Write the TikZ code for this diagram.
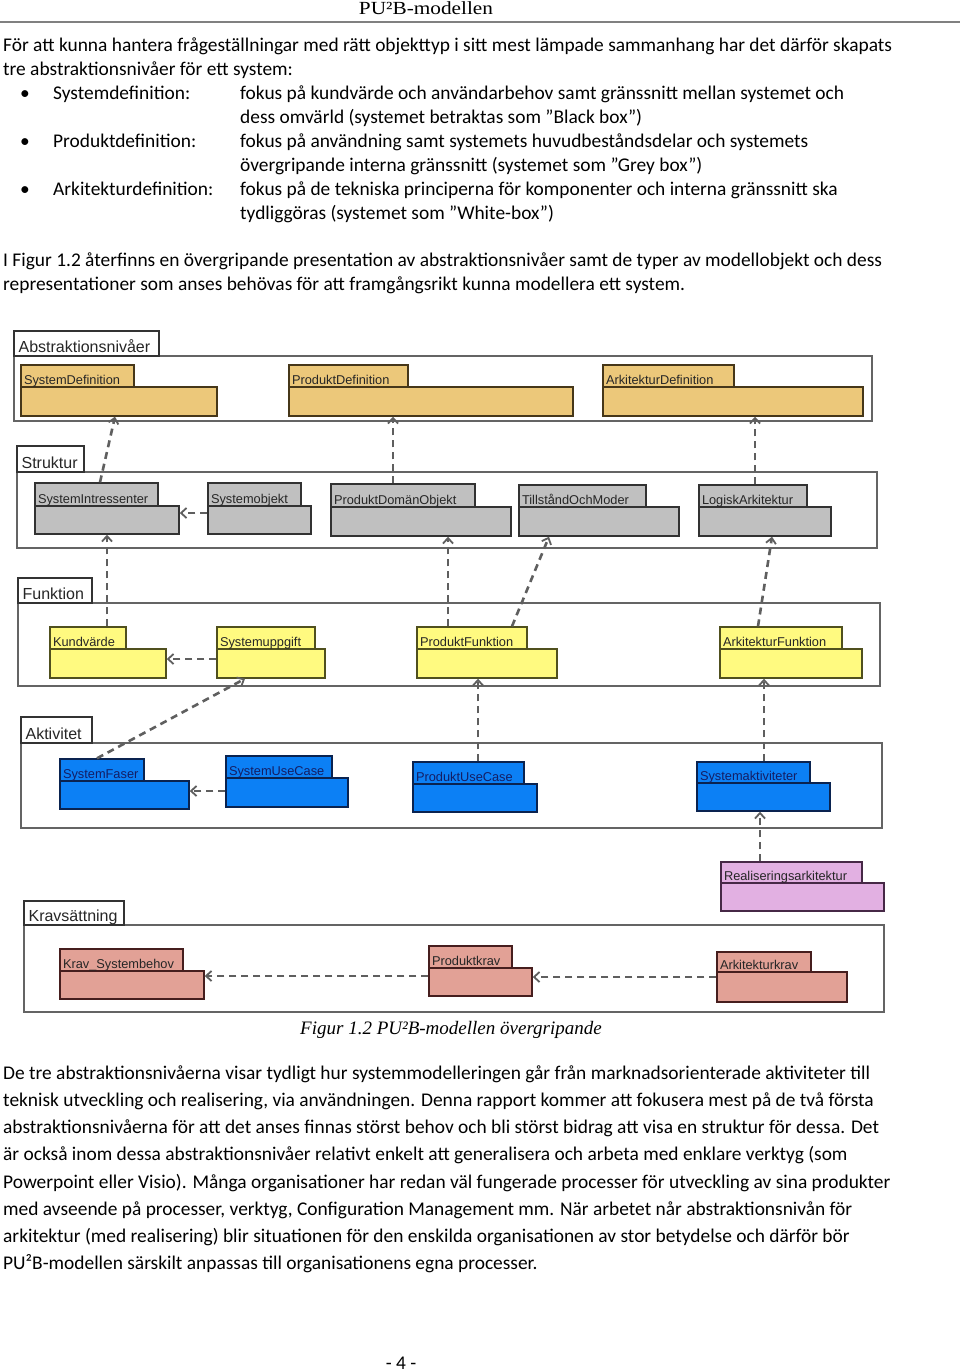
\documentclass[tikz,border=0pt]{standalone}
\usepackage{fontspec}
\setmainfont{Carlito}
\newfontfamily\hdrfont[FakeStretch=1.15]{Liberation Serif}
\newfontfamily\capfont{Liberation Serif}
\newfontfamily\diafont{Liberation Sans}
\usetikzlibrary{fit,arrows.meta,calc}
\definecolor{cO}{RGB}{236,200,122}
\definecolor{cOd}{RGB}{70,55,25}
\definecolor{cG}{RGB}{192,192,192}
\definecolor{cGd}{RGB}{50,50,50}
\definecolor{cY}{RGB}{255,250,128}
\definecolor{cYd}{RGB}{80,80,30}
\definecolor{cB}{RGB}{12,128,245}
\definecolor{cBd}{RGB}{10,35,80}
\definecolor{cP}{RGB}{226,176,226}
\definecolor{cPd}{RGB}{70,40,70}
\definecolor{cS}{RGB}{226,161,150}
\definecolor{cSd}{RGB}{70,30,30}
\definecolor{cline}{RGB}{95,95,95}
\definecolor{cframe}{RGB}{100,100,100}
\definecolor{lblB}{RGB}{20,30,100}
\colorlet{lbl}{black!85}
\newcommand\frm[8]{%
  \node[lvlframe, fit={(#2,#5)(#6,#7)}] (#1) {};
  \node[lvltab, fit={(#2,#3)(#4,#5)}] (#1-t) {};
  \node[lvltitle] (#1-l) at ([xshift=5pt,yshift=4pt]#1-t.south west) {#8};
}
\newcommand\pkg[9]{%
  \node[pkgbody, #2, fit={(#3,#6)(#7,#8)}] (#1-b) {};
  \node[pkgtab, #2, fit={(#3,#4)(#5,#6)}] (#1-t) {};
  \node[pkglabel] (#1-l) at ([xshift=3.5pt,yshift=3.5pt]#1-t.south west) {#9};
}
\begin{document}
\begin{tikzpicture}[x=1pt,y=-1pt,
  toptext/.style={font=\fontsize{19.4}{22}\selectfont, anchor=base west, inner sep=0pt},
  bottext/.style={font=\fontsize{19.4}{22}\selectfont, anchor=base west, inner sep=0pt},
  hdrtext/.style={font=\hdrfont\fontsize{18.5}{22}\selectfont, anchor=base, inner sep=0pt},
  captext/.style={font=\capfont\itshape\fontsize{19}{22}\selectfont, anchor=base, inner sep=0pt},
  rule/.style={draw=black!50, line width=2pt},
  lvlframe/.style={draw=cframe, line width=1.6pt, inner sep=0pt, fill=white},
  lvltab/.style={draw=black!80, line width=1.2pt, inner sep=0pt, fill=white},
  lvltitle/.style={font=\diafont\fontsize{16}{18}\selectfont, anchor=base west, inner sep=0pt, text=black!85},
  pkgbody/.style={line width=1.4pt, inner sep=0pt},
  pkgtab/.style={line width=1.4pt, inner sep=0pt},
  pkglabel/.style={font=\diafont\fontsize{12.8}{14}\selectfont, anchor=base west, inner sep=0pt, text=lbl},
  pO/.style={fill=cO, draw=cOd},
  pG/.style={fill=cG, draw=cGd},
  pY/.style={fill=cY, draw=cYd},
  pB/.style={fill=cB, draw=cBd},
  pP/.style={fill=cP, draw=cPd},
  pS/.style={fill=cS, draw=cSd},
  conn/.style={draw=cline, line width=2.6pt, dash pattern=on 7pt off 5pt, -{Straight Barb[length=5.5pt,width=10pt,line width=1.8pt]}}
]
\useasboundingbox[fill=white] (0,0) rectangle (960,1372);

% header
\node[hdrtext] (hdr) at (426,15) {PU²B-modellen};
\coordinate (rl) at (0,22);
\coordinate (rr) at (960,22);
\draw[rule] (rl) -- (rr);

% top paragraph
\node[toptext] (t1) at (3,52) {För att kunna hantera frågeställningar med rätt objekttyp i sitt mest lämpade sammanhang har det därför skapats};
\node[toptext] (t2) at (3,76) {tre abstraktionsnivåer för ett system:};
\node[toptext] (b1) at (20,100) {•};
\node[toptext] (l1) at (53,100) {Systemdefinition:};
\node[toptext] (d1a) at (240,100) {fokus på kundvärde och användarbehov samt gränssnitt mellan systemet och};
\node[toptext] (d1b) at (240,124) {dess omvärld (systemet betraktas som ”Black box”)};
\node[toptext] (b2) at (20,148) {•};
\node[toptext] (l2) at (53,148) {Produktdefinition:};
\node[toptext] (d2a) at (240,148) {fokus på användning samt systemets huvudbeståndsdelar och systemets};
\node[toptext] (d2b) at (240,172) {övergripande interna gränssnitt (systemet som ”Grey box”)};
\node[toptext] (b3) at (20,196) {•};
\node[toptext] (l3) at (53,196) {Arkitekturdefinition:};
\node[toptext] (d3a) at (240,196) {fokus på de tekniska principerna för komponenter och interna gränssnitt ska};
\node[toptext] (d3b) at (240,220) {tydliggöras (systemet som ”White-box”)};
\node[toptext] (p2a) at (3,266) {I Figur 1.2 återfinns en övergripande presentation av abstraktionsnivåer samt de typer av modellobjekt och dess};
\node[toptext] (p2b) at (3,290) {representationer som anses behövas för att framgångsrikt kunna modellera ett system.};

% frames
\frm{fabs}{14}{331}{159}{356}{872}{421}{Abstraktionsnivåer}
\frm{fstr}{17}{446}{84}{472}{877}{548}{Struktur}
\frm{ffun}{18}{578}{92}{603}{880}{686}{Funktion}
\frm{fakt}{21}{717}{92}{743}{882}{828}{Aktivitet}
\frm{fkrav}{24}{901}{124}{925}{884}{1012}{Kravsättning}

% packages
\pkg{sdef}{pO}{21}{365}{134}{387}{217}{416}{SystemDefinition}
\pkg{pdef}{pO}{289}{365}{408}{387}{573}{416}{ProduktDefinition}
\pkg{adef}{pO}{603}{365}{734}{387}{863}{416}{ArkitekturDefinition}

\pkg{sint}{pG}{35}{483}{158}{506}{179}{534}{SystemIntressenter}
\pkg{so}{pG}{208}{483}{301}{506}{311}{534}{Systemobjekt}
\pkg{pdo}{pG}{331}{484}{475}{507}{511}{536}{ProduktDomänObjekt}
\pkg{tom}{pG}{519}{485}{646}{507}{679}{536}{TillståndOchModer}
\pkg{la}{pG}{699}{485}{807}{507}{831}{536}{LogiskArkitektur}

\pkg{kv}{pY}{50}{627}{126}{649}{166}{678}{Kundvärde}
\pkg{su}{pY}{217}{627}{315}{649}{325}{678}{Systemuppgift}
\pkg{pf}{pY}{417}{627}{527}{649}{557}{678}{ProduktFunktion}
\pkg{af}{pY}{720}{627}{842}{649}{862}{678}{ArkitekturFunktion}

\colorlet{lbl}{lblB}
\pkg{sf}{pB}{60}{759}{144}{781}{189}{809}{SystemFaser}
\pkg{suc}{pB}{226}{756}{332}{778}{348}{807}{SystemUseCase}
\pkg{puc}{pB}{413}{762}{524}{784}{537}{812}{ProduktUseCase}
\pkg{sa}{pB}{697}{762}{810}{783}{830}{811}{Systemaktiviteter}
\colorlet{lbl}{black!85}

\pkg{ra}{pP}{721}{862}{862}{883}{884}{911}{Realiseringsarkitektur}

\pkg{ks}{pS}{60}{949}{183}{971}{204}{999}{Krav\_Systembehov}
\pkg{pk}{pS}{429}{946}{512}{968}{532}{996}{Produktkrav}
\pkg{ak}{pS}{717}{952}{811}{972}{847}{1002}{Arkitekturkrav}

% connectors
\draw[conn] ([xshift=3.5pt]sint-t.north) -- ([xshift=-4pt]sdef-b.south);
\draw[conn] ([xshift=-10pt]pdo-t.north) -- ([xshift=-38pt]pdef-b.south);
\draw[conn] ([xshift=2pt]la-t.north) -- ([xshift=22pt]adef-b.south);
\draw[conn] ([yshift=7pt]so-b.west) -- ([yshift=7pt]sint-b.east);
\draw[conn] ([xshift=19pt]kv-t.north) -- (sint-b.south);
\draw[conn] ([xshift=-24pt]pf-t.north) -- ([xshift=27pt]pdo-b.south);
\draw[conn] ([xshift=40pt]pf-t.north) -- ([xshift=-50pt]tom-b.south);
\draw[conn] ([xshift=-23pt]af-t.north) -- ([xshift=7pt]la-b.south);
\draw[conn] ([yshift=4.5pt]su-b.west) -- ([yshift=4.5pt]kv-b.east);
\draw[conn] ([xshift=-5pt]sf-t.north) -- ([xshift=-26pt]su-b.south);
\draw[conn] ([xshift=9.5pt]puc-t.north) -- ([xshift=-9pt]pf-b.south);
\draw[conn] ([xshift=10.5pt]sa-t.north) -- ([xshift=-27pt]af-b.south);
\draw[conn] ([yshift=1.5pt]suc-b.west) -- ([yshift=4pt]sf-b.east);
\draw[conn] ([xshift=-31.5pt]ra-t.north) -- ([xshift=-3.5pt]sa-b.south);
\draw[conn] ([yshift=6pt]pk-b.west) -- ([yshift=9pt]ks-b.east);
\draw[conn] ([yshift=10pt]ak-b.west) -- ([yshift=5pt]pk-b.east);

% caption
\node[captext] (cap) at (451,1034) {Figur 1.2 PU²B-modellen övergripande};

% bottom paragraph
\node[bottext] (q1) at (3,1079) {De tre abstraktionsnivåerna visar tydligt hur systemmodelleringen går från marknadsorienterade aktiviteter till};
\node[bottext] (q2) at (3,1106) {teknisk utveckling och realisering, via användningen. Denna rapport kommer att fokusera mest på de två första};
\node[bottext] (q3) at (3,1133) {abstraktionsnivåerna för att det anses finnas störst behov och bli störst bidrag att visa en struktur för dessa. Det};
\node[bottext] (q4) at (3,1160) {är också inom dessa abstraktionsnivåer relativt enkelt att generalisera och arbeta med enklare verktyg (som};
\node[bottext] (q5) at (3,1188) {Powerpoint eller Visio). Många organisationer har redan väl fungerade processer för utveckling av sina produkter};
\node[bottext] (q6) at (3,1215) {med avseende på processer, verktyg, Configuration Management mm. När arbetet når abstraktionsnivån för};
\node[bottext] (q7) at (3,1242) {arkitektur (med realisering) blir situationen för den enskilda organisationen av stor betydelse och därför bör};
\node[bottext] (q8) at (3,1269) {PU²B-modellen särskilt anpassas till organisationens egna processer.};

\node[bottext, anchor=base] (pg) at (401,1369) {- 4 -};
\end{tikzpicture}
\end{document}
